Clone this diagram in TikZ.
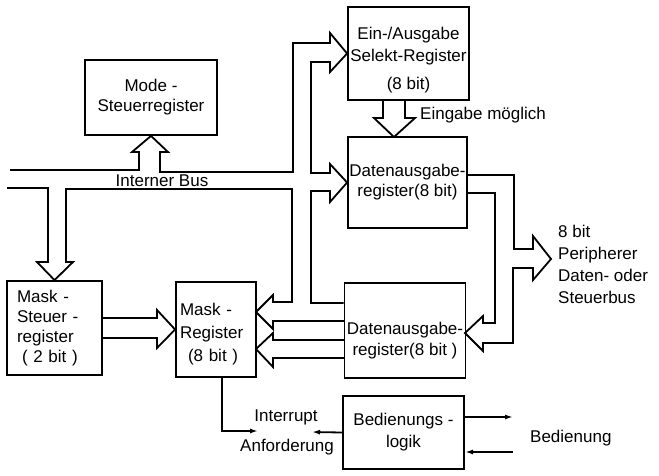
\documentclass[tikz,border=0pt]{standalone}
\usepackage{fontspec}
\setmainfont{Liberation Sans}
\usetikzlibrary{arrows.meta,calc}
\begin{document}
\begin{tikzpicture}[x=1pt,y=-1pt,
  box/.style={draw,line width=1.8pt,inner sep=0pt,font=\fontsize{17}{20}\selectfont,align=center},
  bus/.style={line width=1.8pt,line join=miter},
  sig/.style={line width=1.8pt,-{Latex[length=8pt,width=5pt]}},
  lbl/.style={font=\fontsize{17}{21}\selectfont,inner sep=0pt}]
\useasboundingbox (0,0) rectangle (659,475);
% boxes
\node[box,minimum width=132pt,minimum height=75pt] (mode) at (151,97.5) {Mode -\\Steuerregister};
\node[box,minimum width=121pt,minimum height=93pt] (esr) at (408.5,53.5) {};
\node[lbl,align=center,font=\fontsize{17}{22}\selectfont] (esrt) at (408.5,60) {Ein-/Ausgabe\\Selekt-Register\\[6pt](8 bit)};
\node[box,minimum width=119pt,minimum height=91pt] (da1) at (407.5,182.5) {Datenausgabe-\\register(8 bit)};
\node[box,minimum width=121pt,minimum height=95pt] (da2) at (405,330.5) {};
\node[lbl,align=center] (da2t) at (405,341) {Datenausgabe-\\register(8 bit )};
\node[box,minimum width=95pt,minimum height=94pt,text width=75pt,align=left] (msr) at (54.5,328) {Mask -\\Steuer -\\register\\\hspace*{5pt}( 2 bit )};
\node[box,minimum width=80pt,minimum height=95pt] (mr) at (216,329.5) {};
\node[lbl,text width=72pt,align=left,font=\fontsize{17}{23}\selectfont] (mrt) at (216,334) {Mask -\\Register\\\hspace*{8pt}(8 bit )};
\node[box,minimum width=121pt,minimum height=73pt,font=\fontsize{17}{22}\selectfont] (bl) at (403.5,432.5) {Bedienungs -\\logik};
% labels
\node[lbl] (bus) at (162,181) {Interner Bus};
\node[lbl,anchor=west] (eing) at (420,115) {Eingabe möglich};
\node[lbl,anchor=north west,align=left,font=\fontsize{17}{22}\selectfont] (peri) at (558,225) {8 bit\\Peripherer\\Daten- oder\\Steuerbus};
\node[lbl] (intr) at (286,417) {Interrupt};
\node[lbl] (anf) at (287,447) {Anforderung};
\node[lbl,anchor=west] (bed) at (530,438) {Bedienung};
% internal bus, upper/outer line and inner line
\draw[bus] (10,170) -- (139,170) -- (139,152) -- (132,152) -- (mode.south) -- (168,152) -- (160,152) -- (160,172)
  -- (293,172) -- (293,43) -- (330,43) -- (330,33) -- (esr.west) -- (330,72) -- (330,62)
  -- (311,62) -- (311,173) -- (330,173) -- (330,164) -- (da1.west) -- (330,202) -- (330,191)
  -- (311,191) -- (311,303) -- (da2.west |- 311,303);
% internal bus, lower line
\draw[bus] (7,188) -- (48,188) -- (48,262) -- (37,262) -- (msr.north) -- (73,262) -- (66,262) -- (66,189)
  -- (292,189) -- (292,302) -- (273,302) -- (273,295) -- (256,312) -- (273,329) -- (273,321) -- (344,321);
% DA2 -> Mask-Register lower arrow
\draw[bus] (344,340) -- (273,340) -- (273,333) -- (256,349) -- (273,367) -- (273,358) -- (344,358);
% Mask-Steuer -> Mask-Register
\draw[bus] (msr.east |- 0,318) -- (157,318) -- (157,310) -- (mr.west) -- (157,348) -- (157,338) -- (msr.east |- 0,338);
% ESR -> DA1
\draw[bus] (383,100) -- (383,118) -- (374,118) -- (394,137) -- (415,118) -- (405,118) -- (405,100);
% right side: DA1 -> peripheral bus -> DA2
\draw[bus] (467,175) -- (514,175) -- (514,249) -- (533,249) -- (533,236) -- (551,259) -- (533,280) -- (533,268)
  -- (513,268) -- (513,343) -- (483,343) -- (483,351) -- (465,333) -- (483,316) -- (483,323) -- (495,323) -- (495,193) -- (467,193);
% interrupt
\coordinate (ia) at (258,431);
\coordinate (ib) at (312,432);
\draw[sig] (222,377) -- (222,431) -- (ia);
\draw[sig] (bl.west) -- (ib);
% Bedienung
\coordinate (b1) at (513,417);
\coordinate (b2) at (513,452);
\draw[sig] (464,417) -- (b1);
\draw[sig] (b2) -- (465,452);
\end{tikzpicture}
\end{document}
